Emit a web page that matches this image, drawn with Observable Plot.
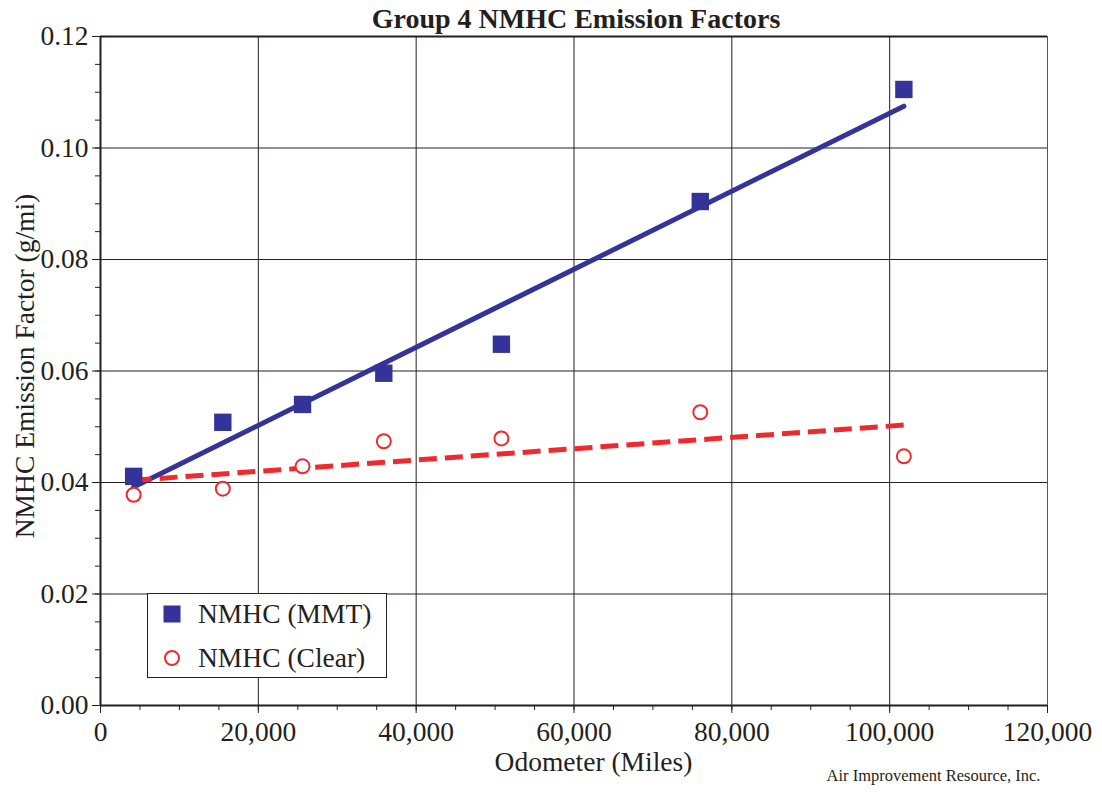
<!DOCTYPE html>
<html>
<head>
<meta charset="utf-8">
<script src="https://cdn.jsdelivr.net/npm/d3@7"></script>
<script src="https://cdn.jsdelivr.net/npm/@observablehq/plot@0.6"></script>
<style>
  html, body { margin: 0; padding: 0; background: #fff; }
  #wrap { position: relative; width: 1102px; height: 792px; }
  #legend {
    position: absolute; left: 147px; top: 593px; width: 238px; height: 83px;
    border: 1.5px solid #231f20; background: #fff;
    font-family: "Liberation Serif", "DejaVu Serif", serif; font-size: 27.5px; color: #231f20;
  }
  .row { position: absolute; left: 0; height: 30px; display: flex; align-items: center; white-space: nowrap; }
  .row svg { margin-left: 15px; margin-right: 17px; flex: none; }
</style>
</head>
<body>
<div id="wrap">
  <div id="chart"></div>
  <div id="legend">
    <div class="row" style="top:5px"><svg width="18" height="18"><rect x="0.5" y="0.5" width="17" height="17" fill="#333399"/></svg>NMHC (MMT)</div>
    <div class="row" style="top:49px"><svg width="18" height="18"><circle cx="9" cy="9" r="7" fill="#fff" stroke="#ee2a2e" stroke-width="2"/></svg>NMHC (Clear)</div>
  </div>
</div>
<script>
const titleText = "Group 4 NMHC Emission Factors";
const xLabel = "Odometer (Miles)";
const yLabel = "NMHC Emission Factor (g/mi)";
const caption = "Air Improvement Resource, Inc.";

const odometer = [4200, 15500, 25600, 35900, 50800, 76000, 101800];
const mmtValues = [0.0411, 0.0508, 0.0540, 0.0596, 0.0648, 0.0904, 0.1105];
const clearValues = [0.0378, 0.0389, 0.0429, 0.0474, 0.0479, 0.0526, 0.0447];

const trendX = [4200, 101800];
const mmtTrend = [0.0392, 0.1075];
const clearTrend = [0.0404, 0.0503];

const xTicks = [0, 20000, 40000, 60000, 80000, 100000, 120000];
const yTicks = [0, 0.02, 0.04, 0.06, 0.08, 0.10, 0.12];
const xMinor = d3.range(0, 120001, 5000);
const yMinor = d3.range(0, 0.12001, 0.005);

const blue = "#333399";
const red = "#ee2a2e";
const ink = "#231f20";

const mmt = odometer.map((x, i) => ({x, y: mmtValues[i]}));
const clear = odometer.map((x, i) => ({x, y: clearValues[i]}));
const mmtLine = trendX.map((x, i) => ({x, y: mmtTrend[i]}));
const clearLine = trendX.map((x, i) => ({x, y: clearTrend[i]}));

const chart = Plot.plot({
  width: 1102, height: 792,
  marginLeft: 100, marginRight: 55, marginTop: 36, marginBottom: 87,
  style: {fontFamily: "'Liberation Serif', 'DejaVu Serif', serif", fontSize: "27.5px", color: ink, background: "#fff"},
  x: {domain: [0, 120000]},
  y: {domain: [0, 0.12]},
  marks: [
    Plot.gridX(xTicks, {stroke: ink, strokeOpacity: 1, strokeWidth: 1}),
    Plot.gridY(yTicks, {stroke: ink, strokeOpacity: 1, strokeWidth: 1}),
    Plot.frame({stroke: "#555", strokeWidth: 1}),
    Plot.ruleX([0], {stroke: ink, strokeWidth: 2}),
    Plot.ruleY([0, 0.12], {stroke: ink, strokeWidth: 2}),
    Plot.axisX({ticks: xMinor, tickFormat: () => "", tickSize: 5, stroke: ink, label: null}),
    Plot.axisY({ticks: yMinor, tickFormat: () => "", tickSize: 5, stroke: ink, label: null}),
    Plot.axisX({ticks: xTicks, tickFormat: d3.format(","), tickSize: 8, tickPadding: 8, fontSize: 27.5, stroke: ink, fill: ink, label: null}),
    Plot.axisY({ticks: yTicks, tickFormat: d3.format(".2f"), tickSize: 8, tickPadding: 4, fontSize: 27.5, stroke: ink, fill: ink, label: null}),
    Plot.line(mmtLine, {x: "x", y: "y", stroke: blue, strokeWidth: 5}),
    Plot.line(clearLine, {x: "x", y: "y", stroke: red, strokeWidth: 5, strokeDasharray: "18,8", strokeLinecap: "butt"}),
    Plot.dot(mmt, {x: "x", y: "y", symbol: "square", fill: blue, r: 9.8}),
    Plot.dot(clear, {x: "x", y: "y", symbol: "circle", fill: "#fff", stroke: red, strokeWidth: 2, r: 7}),
    Plot.text([titleText], {text: d => d, frameAnchor: "top", lineAnchor: "middle", textAnchor: "middle", dx: 2, dy: -17, fontSize: 28, fontWeight: "bold", fill: ink}),
    Plot.text([yLabel], {text: d => d, frameAnchor: "left", lineAnchor: "middle", textAnchor: "middle", rotate: -90, dx: -75, dy: -5, fontSize: 27.5, fill: ink}),
    Plot.text([xLabel], {text: d => d, frameAnchor: "bottom", lineAnchor: "middle", textAnchor: "middle", dx: 19.5, dy: 57, fontSize: 27.5, fill: ink}),
    Plot.text([caption], {text: d => d, frameAnchor: "bottom-right", lineAnchor: "middle", textAnchor: "end", dx: -7, dy: 70, fontSize: 16.5, fill: ink})
  ]
});
document.getElementById("chart").appendChild(chart);
</script>
</body>
</html>
